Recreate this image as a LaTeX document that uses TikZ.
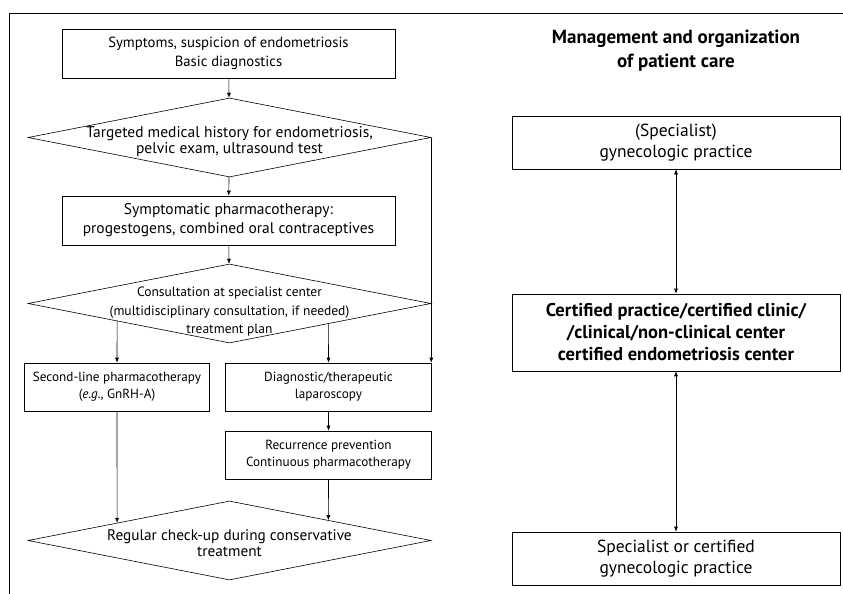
\documentclass[tikz,border=0pt]{standalone}
\usepackage{fontspec}
\setmainfont{PT Sans}
\usetikzlibrary{shapes.geometric, arrows.meta, calc, positioning}

\tikzset{
  box/.style = {draw, rectangle, align=center, inner sep=2pt},
  decision/.style = {draw, diamond, minimum width=403pt, minimum height=79pt, inner sep=0pt},
  dtext/.style = {align=center, font=\fontsize{15.5}{16}\selectfont},
  arr/.style = {-{Latex[length=5pt,width=4pt]}},
  twoarr/.style = {{Latex[length=5pt,width=4pt]}-{Latex[length=5pt,width=4pt]}},
}

\begin{document}
\begin{tikzpicture}[x=1pt, y=-1pt, line width=0.6pt]
            \useasboundingbox (0,0) rectangle (843,594);
            \draw[line width=1pt] (9,594) -- (9,14) -- (843,14);

            % left flow
            \node[box, minimum width=333pt, minimum height=49pt, font=\fontsize{14.7}{19}\selectfont] (sym) at (228.5,53.5) {Symptoms, suspicion of endometriosis\\Basic diagnostics};
            \node[decision, label={[dtext, yshift=-4pt]center:{Targeted medical history for endometriosis,\\pelvic exam, ultrasound test}}] (hist) at (229.5,137.5) {};
            \node[box, minimum width=333pt, minimum height=49pt, font=\fontsize{15.5}{19}\selectfont] (pharm) at (228.5,220.5) {Symptomatic pharmacotherapy:\\progestogens, combined oral contraceptives};
            \node[decision, label={[dtext, font=\fontsize{13.5}{18.5}\selectfont, yshift=-8.5pt]center:{Consultation at specialist center\\(multidisciplinary consultation, if needed)\\treatment plan}}] (consult) at (229.5,303.5) {};
            \node[box, minimum width=185pt, minimum height=48pt, font=\fontsize{13.2}{17}\selectfont] (second) at (117,387) {Second-line pharmacotherapy\\(\textit{e.g.}, GnRH-A)};
            \node[box, minimum width=206pt, minimum height=48pt, font=\fontsize{13.2}{17}\selectfont] (lap) at (328.5,387) {Diagnostic/therapeutic\\laparoscopy};
            \node[box, minimum width=206pt, minimum height=48pt, font=\fontsize{13.2}{17}\selectfont] (recur) at (328.5,455) {Recurrence prevention\\Continuous pharmacotherapy};
            \node[decision, label={[dtext, font=\fontsize{15.3}{16}\selectfont, yshift=-3pt]center:{Regular check-up during conservative\\treatment}}] (check) at (229.5,540.5) {};

            \draw[arr] (sym) -- (hist);
            \draw[arr] (hist) -- (pharm);
            \draw[arr] (pharm) -- (consult);
            \draw[arr] (hist.east) -- (hist.east |- lap.north);
            \draw[arr] ($(consult.west)!0.443!(consult.south)$) -- (second.north);
            \draw[arr] ($(consult.south)!0.49!(consult.east)$) -- (lap.north);
            \draw[arr] (lap) -- (recur);
            \draw[arr] (second.south) -- ($(check.west)!0.443!(check.north)$);
            \draw[arr] (recur.south) -- ($(check.north)!0.49!(check.east)$);

            % right column
            \node[align=center, font=\bfseries\fontsize{19}{24}\selectfont] (title) at (676,51) {Management and organization\\of patient care};
            \node[box, minimum width=328pt, minimum height=53pt, font=\fontsize{17.5}{21}\selectfont] (gyn) at (676,142.5) {(Specialist)\\gynecologic practice};
            \node[box, minimum width=328pt, minimum height=77pt, font=\bfseries\fontsize{18.5}{22}\selectfont] (cert) at (676,332.5) {Certified practice/certified clinic/\\/clinical/non-clinical center\\certified endometriosis center};
            \node[box, minimum width=328pt, minimum height=53pt, font=\fontsize{17.5}{21}\selectfont] (spec) at (676,558.5) {Specialist or certified\\gynecologic practice};

            \draw[twoarr] (gyn) -- (cert);
            \draw[twoarr] (cert) -- (spec);
        \end{tikzpicture}
\end{document}
